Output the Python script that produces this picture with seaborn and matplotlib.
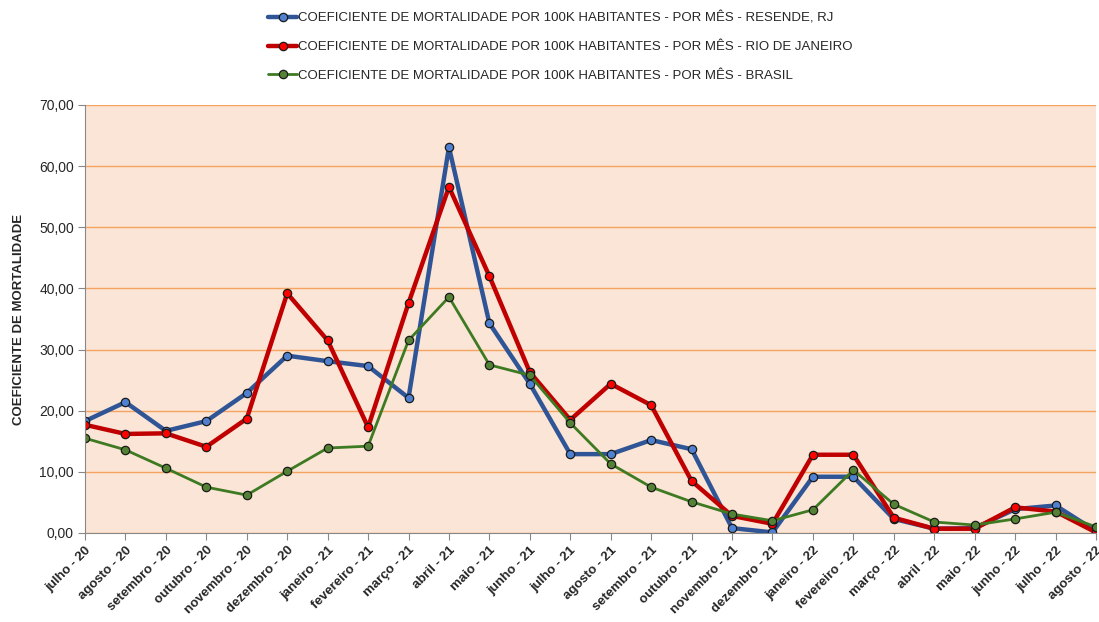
import pandas as pd
import numpy as np
import matplotlib.pyplot as plt
import seaborn as sns
from matplotlib.ticker import FuncFormatter

meses = ['julho - 20', 'agosto - 20', 'setembro - 20', 'outubro - 20', 'novembro - 20', 'dezembro - 20',
         'janeiro - 21', 'fevereiro - 21', 'março - 21', 'abril - 21', 'maio - 21', 'junho - 21',
         'julho - 21', 'agosto - 21', 'setembro - 21', 'outubro - 21', 'novembro - 21', 'dezembro - 21',
         'janeiro - 22', 'fevereiro - 22', 'março - 22', 'abril - 22', 'maio - 22', 'junho - 22',
         'julho - 22', 'agosto - 22']

resende = [18.3, 21.4, 16.7, 18.3, 22.9, 29.0, 28.1, 27.3, 22.1, 63.1, 34.3, 24.4, 12.9,
           12.9, 15.2, 13.7, 0.8, 0.1, 9.2, 9.2, 2.3, 0.7, 0.8, 3.9, 4.5, 0.3]
rio = [17.7, 16.2, 16.3, 14.1, 18.7, 39.2, 31.5, 17.3, 37.6, 56.6, 42.0, 26.3, 18.5,
       24.4, 20.9, 8.5, 2.8, 1.5, 12.8, 12.8, 2.5, 0.7, 0.7, 4.2, 3.5, 0.1]
brasil = [15.5, 13.6, 10.6, 7.5, 6.2, 10.1, 13.9, 14.2, 31.5, 38.6, 27.5, 25.8, 18.0,
          11.3, 7.5, 5.1, 3.1, 2.0, 3.8, 10.3, 4.7, 1.8, 1.3, 2.3, 3.4, 1.0]

label_base = 'COEFICIENTE DE MORTALIDADE POR 100K HABITANTES - POR MÊS - '
series = [
    (resende, label_base + 'RESENDE, RJ', '#2F5597', '#4F81D0', 3.2),
    (rio, label_base + 'RIO DE JANEIRO', '#C00000', '#FF0000', 3.2),
    (brasil, label_base + 'BRASIL', '#3D7A22', '#548235', 2.0),
]

sns.set_style('white')
plt.rcParams['font.family'] = ['Liberation Sans', 'DejaVu Sans']

fig = plt.figure(figsize=(10.99, 6.22), dpi=100)
ax = fig.add_axes([85 / 1099, 1 - 533 / 622, (1096 - 85) / 1099, (533 - 105) / 622])
ax.set_facecolor('#FBE5D6')

x = np.arange(len(meses))
for vals, lab, lc, mc, lw in series:
    df = pd.DataFrame({'x': x, 'y': vals})
    sns.lineplot(data=df, x='x', y='y', ax=ax, color=lc, linewidth=lw, marker='o',
                 markersize=6, markerfacecolor=mc, markeredgecolor='#1a1a1a',
                 markeredgewidth=0.9, label=lab, legend=False)

ax.set_xlim(0, len(meses) - 1)
ax.set_ylim(0, 70)
ax.set_yticks(np.arange(0, 71, 10))
ax.yaxis.set_major_formatter(FuncFormatter(lambda v, p: f'{v:.2f}'.replace('.', ',')))
ax.grid(axis='y', color='#F4A460', linewidth=1)
ax.set_axisbelow(True)
ax.set_xticks(x)
ax.set_xticklabels(meses, rotation=45, ha='right', rotation_mode='anchor',
                   fontsize=9.5, fontweight='bold')
ax.tick_params(axis='x', length=5, color='#888888', pad=3)
ax.tick_params(axis='y', length=5, color='#888888', labelsize=10, pad=3)
ax.tick_params(left=True, bottom=True)
for s in ['top', 'right']:
    ax.spines[s].set_visible(False)
for s in ['left', 'bottom']:
    ax.spines[s].set_color('#888888')
ax.set_xlabel('')
ax.set_ylabel('COEFICIENTE DE MORTALIDADE', fontsize=9.5, fontweight='bold', labelpad=10)

handles, labels = ax.get_legend_handles_labels()
fig.legend(handles, labels, loc='upper center', bbox_to_anchor=(0.51, 1.0), frameon=False,
           fontsize=9.5, labelspacing=1.22, handlelength=2.2, handletextpad=0.1)

fig.savefig('out.png', dpi=100)
